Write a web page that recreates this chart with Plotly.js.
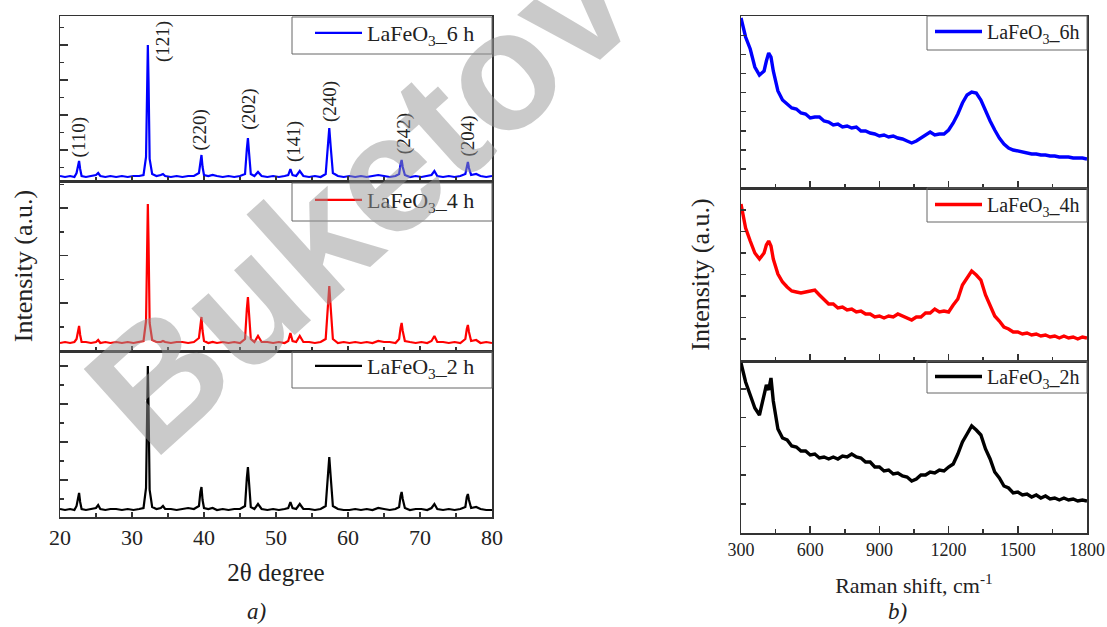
<!DOCTYPE html>
<html>
<head>
<meta charset="utf-8">
<script src="https://cdn.plot.ly/plotly-3.0.1.min.js"></script>
<style>html,body{margin:0;padding:0;background:#fff;}#chart{width:1107px;height:627px;}</style>
</head>
<body>
<div id="chart"></div>
<script>
// ---------- XRD data (a) ----------
const xrdX = [
  20, 20.7, 21.4, 22.0, 22.3, 22.5, 22.65, 22.8, 23.0, 23.6,
  24.3, 25.0, 25.3, 25.6, 26.3, 27.0, 27.8, 28.6, 29.4, 30.2,
  31.0, 31.6, 31.95, 32.1, 32.2, 32.3, 32.45, 32.8, 33.4, 34.0,
  34.3, 34.6, 35.4, 36.2, 37.0, 37.8, 38.6, 39.3, 39.5, 39.65,
  39.8, 40.0, 40.6, 41.2, 41.8, 42.6, 43.4, 44.2, 45.0, 45.7,
  45.95, 46.1, 46.25, 46.5, 47.0, 47.5, 48.0, 48.8, 49.6, 50.4,
  51.2, 51.7, 52.0, 52.3, 52.8, 53.3, 53.8, 54.6, 55.4, 56.2,
  56.9, 57.2, 57.4, 57.6, 57.9, 58.6, 59.4, 60.2, 61.0, 61.8,
  62.6, 63.4, 64.2, 65.0, 65.8, 66.6, 67.1, 67.3, 67.45, 67.6,
  67.9, 68.6, 69.4, 70.2, 71.0, 71.6, 72.0, 72.4, 73.2, 74.0,
  74.8, 75.6, 76.3, 76.5, 76.65, 76.8, 77.1, 77.8, 78.4, 79.2,
  80
];
const xrd6h = [
  1, 0, 1, 0, 4, 13, 16, 8, 1, 0,
  1, 2, 4, 1, 0, 1, 0, 1, 0, 1,
  1, 2, 20, 100, 132, 95, 18, 3, 1, 2,
  3, 1, 0, 1, 0, 1, 1, 4, 17, 22,
  10, 2, 1, 2, 1, 0, 1, 0, 1, 3,
  28, 39, 25, 3, 1, 5, 1, 0, 1, 0,
  1, 2, 8, 2, 1, 6, 1, 0, 1, 0,
  3, 32, 49, 30, 4, 1, 0, 1, 0, 1,
  0, 1, 2, 1, 0, 1, 3, 13, 17, 10,
  2, 0, 1, 0, 1, 2, 6, 1, 0, 1,
  0, 1, 3, 12, 15, 9, 2, 3, 1, 0,
  1
];
const xrd4h = [
  0, 1, 0, 1, 4, 14, 17, 8, 1, 1,
  0, 1, 3, 0, 1, 0, 1, 0, 1, 0,
  1, 2, 22, 105, 139, 100, 20, 3, 1, 1,
  2, 1, 0, 1, 1, 0, 1, 5, 20, 26,
  12, 2, 0, 1, 0, 1, 0, 1, 0, 4,
  34, 46, 30, 4, 1, 7, 1, 1, 0, 1,
  0, 2, 10, 2, 1, 7, 1, 1, 0, 1,
  4, 38, 57, 35, 4, 0, 1, 0, 1, 0,
  1, 0, 2, 1, 1, 0, 4, 15, 20, 12,
  2, 1, 0, 1, 0, 2, 7, 1, 1, 0,
  1, 0, 4, 14, 18, 11, 2, 3, 0, 1,
  0
];
const xrd2h = [
  1, 0, 1, 0, 4, 14, 17, 8, 1, 0,
  1, 2, 5, 1, 0, 1, 1, 0, 1, 0,
  1, 2, 22, 108, 144, 102, 20, 3, 1, 2,
  4, 1, 1, 0, 1, 2, 1, 4, 18, 23,
  10, 2, 1, 2, 0, 1, 0, 1, 1, 4,
  32, 43, 28, 3, 1, 6, 1, 0, 1, 0,
  1, 2, 8, 2, 1, 6, 1, 1, 0, 1,
  4, 35, 53, 33, 4, 1, 0, 0, 1, 0,
  1, 0, 2, 1, 0, 1, 3, 14, 18, 11,
  2, 0, 1, 1, 0, 2, 6, 1, 0, 1,
  0, 1, 3, 13, 16, 10, 2, 3, 1, 0,
  0
];
// peak labels (hkl) in the 6 h pattern
const hklLabels = ['(110)', '(121)', '(220)', '(202)', '(141)', '(240)', '(242)', '(204)'];
const hklX      = [22.7, 34.3, 39.5, 46.2, 52.5, 57.5, 67.8, 76.6];
const hklY      = [40, 136, 47, 68, 35, 75, 43, 41];

// ---------- Raman data (b) ----------
const ramanX = [
  300, 320, 340, 360, 380, 400, 410, 420, 430, 440,
  460, 480, 500, 520, 540, 560, 580, 600, 620, 640,
  660, 680, 700, 720, 740, 760, 780, 800, 820, 840,
  860, 880, 900, 920, 940, 960, 980, 1000, 1020, 1040,
  1060, 1080, 1100, 1120, 1140, 1160, 1180, 1200, 1220, 1240,
  1260, 1280, 1300, 1320, 1340, 1360, 1380, 1400, 1420, 1440,
  1460, 1480, 1500, 1520, 1540, 1560, 1580, 1600, 1620, 1640,
  1660, 1680, 1700, 1720, 1740, 1760, 1780, 1800
];
const raman6h = [
  170, 151, 139, 121, 113, 117, 127, 135, 131, 117,
  97, 88, 84, 80, 79, 75, 74, 70, 71, 71,
  67, 66, 63, 64, 61, 62, 60, 61, 57, 57,
  55, 54, 52, 53, 51, 52, 50, 49, 47, 45,
  47, 50, 53, 56, 53, 54, 54, 58, 65, 74,
  85, 93, 96, 95, 88, 77, 67, 58, 50, 44,
  40, 38, 37, 36, 35, 34, 34, 33, 33, 32,
  32, 31, 31, 31, 30, 30, 30, 29
];
const raman4h = [
  157, 133, 120, 108, 102, 108, 116, 120, 115, 102,
  87, 79, 74, 70, 69, 68, 69, 70, 71, 66,
  62, 57, 57, 53, 54, 51, 52, 49, 50, 47,
  47, 44, 45, 43, 45, 44, 47, 45, 43, 41,
  44, 44, 48, 48, 52, 49, 50, 49, 56, 62,
  76, 83, 90, 86, 81, 66, 56, 45, 40, 34,
  32, 29, 29, 27, 28, 26, 27, 25, 26, 24,
  25, 23, 25, 23, 24, 22, 24, 23
];
const raman2h = [
  170, 151, 138, 125, 118, 138, 148, 143, 155, 132,
  104, 95, 93, 87, 86, 82, 82, 78, 79, 75,
  76, 74, 76, 74, 77, 76, 79, 76, 75, 71,
  71, 66, 66, 62, 63, 59, 60, 57, 56, 52,
  54, 58, 58, 61, 60, 63, 62, 66, 69, 79,
  91, 99, 107, 103, 98, 84, 74, 61, 55, 47,
  45, 40, 41, 38, 39, 36, 38, 35, 37, 34,
  35, 33, 35, 33, 34, 32, 33, 32
];

const seriesNames = ['LaFeO<sub>3</sub>_6 h', 'LaFeO<sub>3</sub>_4 h', 'LaFeO<sub>3</sub>_2 h'];
const ramanNames  = ['LaFeO<sub>3</sub>_6h', 'LaFeO<sub>3</sub>_4h', 'LaFeO<sub>3</sub>_2h'];
const colors = ['#0000ff', '#ff0000', '#000000'];

// ---------- layout helpers ----------
const W = 1107, H = 627;
const px = v => v / W;
const py = v => 1 - v / H;
const SERIF = 'Liberation Serif, Times New Roman, serif';
const AX = '#333333';

const traces = [
  {x: xrdX, y: xrd6h, xaxis: 'x', yaxis: 'y', legend: 'legend'},
  {x: xrdX, y: xrd4h, xaxis: 'x2', yaxis: 'y2', legend: 'legend2'},
  {x: xrdX, y: xrd2h, xaxis: 'x3', yaxis: 'y3', legend: 'legend3'},
].map((t, i) => Object.assign(t, {type: 'scatter', mode: 'lines', name: seriesNames[i],
  line: {color: colors[i], width: 2.2}}));
[
  {x: ramanX, y: raman6h, xaxis: 'x4', yaxis: 'y4', legend: 'legend4'},
  {x: ramanX, y: raman4h, xaxis: 'x5', yaxis: 'y5', legend: 'legend5'},
  {x: ramanX, y: raman2h, xaxis: 'x6', yaxis: 'y6', legend: 'legend6'},
].forEach((t, i) => traces.push(Object.assign(t, {type: 'scatter', mode: 'lines', name: ramanNames[i],
  line: {color: colors[i], width: 3.4}})));

function xAx(dom, anchor, range, dtick, minor, labels, tickfont, ticklen) {
  return {domain: dom, anchor: anchor, range: range, showline: true, mirror: true, linecolor: AX, linewidth: 1.5,
    ticks: 'inside', ticklen: ticklen, tickwidth: 1.5, tickcolor: AX, dtick: dtick, tick0: 0,
    minor: {dtick: minor, ticks: 'inside', ticklen: 4, tickwidth: 1.5, tickcolor: AX},
    showgrid: false, zeroline: false, showticklabels: labels,
    tickfont: {family: SERIF, size: tickfont, color: '#222'}, fixedrange: true};
}
function yAx(dom, anchor, range, tick0, dtick, minor, ticklen) {
  const a = {domain: dom, anchor: anchor, range: range, showline: true, mirror: true, linecolor: AX, linewidth: 1.5,
    ticks: 'inside', ticklen: ticklen, tickwidth: 1.5, tickcolor: AX, tick0: tick0, dtick: dtick,
    showgrid: false, zeroline: false, showticklabels: false, fixedrange: true};
  if (minor) a.minor = {dtick: minor, tick0: tick0, ticks: 'inside', ticklen: 4, tickwidth: 1.5, tickcolor: AX};
  return a;
}

const LX = [px(60), px(492)], RX = [px(741), px(1087)];
const layout = {
  width: W, height: H, margin: {l: 0, r: 0, t: 0, b: 0},
  paper_bgcolor: '#ffffff', plot_bgcolor: 'rgba(0,0,0,0)',
  font: {family: SERIF, color: '#222'},
  showlegend: true,
  xaxis:  xAx(LX, 'y',  [20, 80], 10, 5, false, 22, 5),
  xaxis2: xAx(LX, 'y2', [20, 80], 10, 5, false, 22, 5),
  xaxis3: Object.assign(xAx(LX, 'y3', [20, 80], 10, 5, true, 22, 5),
    {title: {text: '2θ degree', font: {family: SERIF, size: 25, color: '#222'}, standoff: 14}}),
  yaxis:  yAx([py(181), py(16)],  'x',  [-4, 161], 27, 35, 17.5, 8),
  yaxis2: Object.assign(yAx([py(351), py(181)], 'x2', [-8, 162], 40, 47.5, 23.75, 8),
    {title: {text: 'Intensity (a.u.)', font: {family: SERIF, size: 26, color: '#222'}, standoff: 18}}),
  yaxis3: yAx([py(517), py(351)], 'x3', [-7, 159], 30, 38, 19, 8),
  xaxis4: xAx(RX, 'y4', [300, 1800], 300, 150, false, 18, 7),
  xaxis5: xAx(RX, 'y5', [300, 1800], 300, 150, false, 18, 7),
  xaxis6: Object.assign(xAx(RX, 'y6', [300, 1800], 300, 150, true, 18, 7),
    {title: {text: 'Raman shift, cm<sup>-1</sup>', font: {family: SERIF, size: 22, color: '#222'}, standoff: 18}}),
  yaxis4: yAx([py(188), py(16)],  'x4', [0, 172], 19, 19.1, null, 5),
  yaxis5: Object.assign(yAx([py(361), py(188)], 'x5', [0, 173], 22, 21.5, null, 5),
    {title: {text: 'Intensity (a.u.)', font: {family: SERIF, size: 26, color: '#222'}, standoff: 22}}),
  yaxis6: yAx([py(533), py(361)], 'x6', [0, 172], 29, 28.8, null, 5),
  shapes: [],
  annotations: []
};

// legends (library legends) with a box drawn round each
const legPos = [
  ['legend',  310, 12, [292, 17, 492, 54], 22],
  ['legend2', 310, 179, [292, 183, 492, 221], 22],
  ['legend3', 310, 345, [292, 352, 492, 388], 22],
  ['legend4', 930, 12, [927, 16, 1087, 50], 20],
  ['legend5', 930, 185, [927, 188, 1087, 222], 20],
  ['legend6', 930, 357, [927, 361, 1087, 393], 20],
];
legPos.forEach(([k, lx, ly, box, fs]) => {
  layout[k] = {x: px(lx), y: py(ly), xanchor: 'left', yanchor: 'top', bgcolor: 'rgba(0,0,0,0)',
    borderwidth: 0, itemwidth: 47, font: {family: SERIF, size: fs, color: '#222'}, tracegroupgap: 0};
  layout.shapes.push({type: 'rect', xref: 'paper', yref: 'paper', x0: px(box[0]), x1: px(box[2]),
    y0: py(box[3]), y1: py(box[1]), line: {color: '#666', width: 1}, fillcolor: 'rgba(0,0,0,0)', layer: 'above'});
});

// hkl labels
hklLabels.forEach((t, i) => layout.annotations.push({text: t, x: hklX[i], y: hklY[i], xref: 'x', yref: 'y',
  xanchor: 'center', yanchor: 'middle', showarrow: false, textangle: -90,
  font: {family: SERIF, size: 19, color: '#222'}}));

// panel captions
layout.annotations.push({text: '<i>a)</i>', x: px(256), y: py(611), xref: 'paper', yref: 'paper', showarrow: false,
  xanchor: 'center', yanchor: 'middle', font: {family: SERIF, size: 23, color: '#222'}});
layout.annotations.push({text: '<i>b)</i>', x: px(897), y: py(611), xref: 'paper', yref: 'paper', showarrow: false,
  xanchor: 'center', yanchor: 'middle', font: {family: SERIF, size: 23, color: '#222'}});
// watermark
layout.annotations.push({text: '<b>Buketov</b>', x: px(360), y: py(198), xref: 'paper', yref: 'paper', showarrow: false,
  xanchor: 'center', yanchor: 'middle', textangle: -42,
  font: {family: 'Liberation Sans, Arial, sans-serif', size: 168, color: 'rgba(150,150,150,0.5)'}});

Plotly.newPlot('chart', traces, layout, {displayModeBar: false, staticPlot: true});
</script>
</body>
</html>
